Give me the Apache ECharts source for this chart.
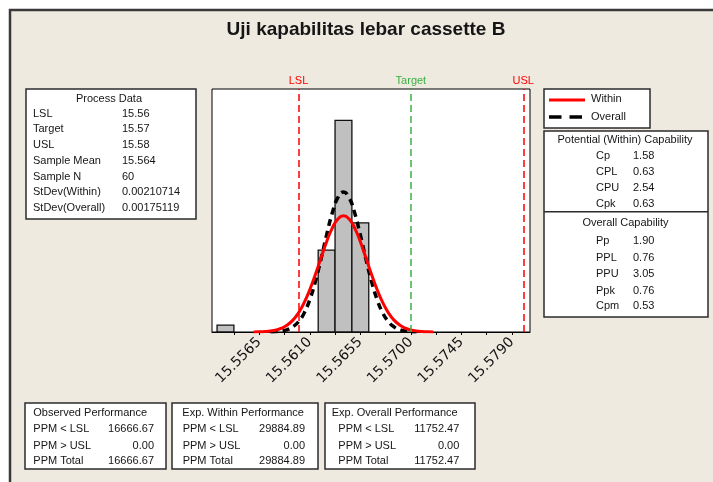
<!DOCTYPE html>
<html>
<head>
<meta charset="utf-8">
<script src="https://cdn.jsdelivr.net/npm/echarts@6/dist/echarts.min.js"></script>
<style>html,body{margin:0;padding:0;background:#fff}#c{width:713px;height:482px}</style>
</head>
<body>
<div id="c"></div>
<script>
// ---- data ----
const titleText = 'Uji kapabilitas lebar cassette B';
// histogram bins: [left edge, right edge, count]
const binLeft  = [15.55275, 15.56175, 15.56325, 15.56475];
const binRight = [15.55425, 15.56325, 15.56475, 15.56625];
const binCount = [1, 12, 31, 16];
// fitted curves (counts scale)
const withinX = [15.5560,15.5565,15.5570,15.5575,15.5580,15.5585,15.5590,15.5595,15.5600,15.5605,15.5610,15.5615,15.5620,15.5625,15.5630,15.5635,15.5640,15.5645,15.5650,15.5655,15.5660,15.5665,15.5670,15.5675,15.5680,15.5685,15.5690,15.5695,15.5700,15.5705,15.5710,15.5715,15.5720];
const withinY = [0.013,0.030,0.068,0.146,0.296,0.565,1.02,1.74,2.81,4.29,6.19,8.43,10.86,13.23,15.23,16.57,17.04,16.57,15.23,13.23,10.86,8.43,6.19,4.29,2.81,1.74,1.02,0.565,0.296,0.146,0.068,0.030,0.013];
const overallX = [15.5575,15.5580,15.5585,15.5590,15.5595,15.5600,15.5605,15.5610,15.5615,15.5620,15.5625,15.5630,15.5635,15.5640,15.5645,15.5650,15.5655,15.5660,15.5665,15.5670,15.5675,15.5680,15.5685,15.5690,15.5695,15.5700,15.5705];
const overallY = [0.021,0.058,0.148,0.348,0.755,1.51,2.78,4.73,7.40,10.68,14.21,17.42,19.68,20.50,19.68,17.42,14.21,10.68,7.40,4.73,2.78,1.51,0.755,0.348,0.148,0.058,0.021];
// spec limits
const specNames  = ['LSL', 'Target', 'USL'];
const specValues = [15.56, 15.57, 15.58];
// axis ticks
const tickValues  = [15.55425,15.5565,15.55875,15.5610,15.56325,15.5655,15.56775,15.5700,15.57225,15.5745,15.57675,15.5790];
const labelValues = [15.5565,15.5610,15.5655,15.5700,15.5745,15.5790];
// tables
const procLabels = ['LSL','Target','USL','Sample Mean','Sample N','StDev(Within)','StDev(Overall)'];
const procValues = ['15.56','15.57','15.58','15.564','60','0.00210714','0.00175119'];
const potLabels = ['Cp','CPL','CPU','Cpk'];
const potValues = ['1.58','0.63','2.54','0.63'];
const ovLabels = ['Pp','PPL','PPU','Ppk','Cpm'];
const ovValues = ['1.90','0.76','3.05','0.76','0.53'];
const perfTitles = ['Observed Performance','Exp. Within Performance','Exp. Overall Performance'];
const perfLabels = ['PPM < LSL','PPM > USL','PPM Total'];
const perfObserved = ['16666.67','0.00','16666.67'];
const perfWithin   = ['29884.89','0.00','29884.89'];
const perfOverall  = ['11752.47','0.00','11752.47'];

// ---- build ----
const FONT = '11px "Liberation Sans", Arial, sans-serif';
const TXT = '#151515';
function txt(x, y, s, align, font) {
  return {type:'text', x:x, y:y, z:10, style:{text:s, font:font||FONT, fill:TXT, textAlign:align||'left', textVerticalAlign:'middle', verticalAlign:'middle'}};
}
function box(x, y, w, h) {
  return {type:'rect', z:5, shape:{x:x, y:y, width:w, height:h}, style:{fill:'#fff', stroke:'#2b2b2b', lineWidth:1.5}};
}
const g = [];
// outer frame
g.push({type:'rect', z:1, shape:{x:0,y:0,width:713,height:9}, style:{fill:'#fff'}});
g.push({type:'rect', z:1, shape:{x:0,y:0,width:9,height:482}, style:{fill:'#fff'}});
g.push({type:'polyline', z:2, shape:{points:[[10,482],[10,10],[713,10]]}, style:{stroke:'#3a3a3a', lineWidth:2.5, fill:null}});
// title
g.push(txt(366, 30, titleText, 'center', 'bold 19px "Liberation Sans", Arial, sans-serif'));
// process data
g.push(box(26, 89, 170, 130));
g.push(txt(109, 99, 'Process Data', 'center'));
const procY = [113.5,129.3,145,160.8,176.6,192.4,208.2];
procLabels.forEach((l,i)=>{ g.push(txt(33, procY[i], l)); g.push(txt(122, procY[i], procValues[i])); });
// legend
g.push(box(544, 89, 106, 39));
g.push({type:'line', z:10, shape:{x1:549,y1:100,x2:585,y2:100}, style:{stroke:'#ff0000', lineWidth:3}});
g.push({type:'line', z:10, shape:{x1:549,y1:117,x2:582,y2:117}, style:{stroke:'#000', lineWidth:3.5, lineDash:[12.5,8]}});
g.push(txt(591, 98.5, 'Within'));
g.push(txt(591, 117, 'Overall'));
// capability box
g.push(box(544, 131, 164, 186));
g.push({type:'line', z:10, shape:{x1:544,y1:211.7,x2:708,y2:211.7}, style:{stroke:'#2b2b2b', lineWidth:1.5}});
g.push(txt(625, 140, 'Potential (Within) Capability', 'center'));
const potY = [156,172,188,203.5];
potLabels.forEach((l,i)=>{ g.push(txt(596, potY[i], l)); g.push(txt(633, potY[i], potValues[i])); });
g.push(txt(625.5, 223, 'Overall Capability', 'center'));
const ovY = [241,257.7,274.3,291,306];
ovLabels.forEach((l,i)=>{ g.push(txt(596, ovY[i], l)); g.push(txt(633, ovY[i], ovValues[i])); });
// performance boxes
const perfBoxX = [25, 172, 325], perfBoxW = [141, 146, 150];
const perfHeadX = [33.3, 182.3, 331.7], perfLabX = [33.3, 182.7, 338.3], perfValX = [154, 305, 459.3];
const perfVals = [perfObserved, perfWithin, perfOverall];
const perfY = [429, 445.7, 461];
for (let b=0;b<3;b++){
  g.push(box(perfBoxX[b], 403, perfBoxW[b], 66));
  g.push(txt(perfHeadX[b], 413.3, perfTitles[b]));
  perfLabels.forEach((l,i)=>{ g.push(txt(perfLabX[b], perfY[i], l)); g.push(txt(perfValX[b], perfY[i], perfVals[b][i], 'right')); });
}

const specColors = ['#ff0000', '#3cb043', '#ff0000'];
const histData = binCount.map((c,i)=>[binLeft[i], binRight[i], c]);

const option = {
  animation: false,
  backgroundColor: '#eeeae0',
  grid: {left:212, right:183, top:89, bottom:150, show:true, backgroundColor:'#fff', borderColor:'#000', borderWidth:1},
  xAxis: {
    type:'value', min:15.5523, max:15.5806, splitLine:{show:false},
    axisLine:{show:true, onZero:false, lineStyle:{color:'#000', width:1}},
    axisTick:{show:true, length:3, lineStyle:{color:'#000'}, customValues: tickValues},
    axisLabel:{rotate:45, margin:8, color:'#111', fontSize:14, fontFamily:'"DejaVu Sans", sans-serif', customValues: labelValues, formatter: v => Number(v).toFixed(4)}
  },
  yAxis: {type:'value', min:0, max:35.6, show:false, splitLine:{show:false}},
  graphic: g,
  series: [
    {
      type:'custom', z:2,
      data: histData,
      encode:{x:[0,1], y:2},
      renderItem: function(params, api){
        const p0 = api.coord([api.value(0), api.value(2)]);
        const p1 = api.coord([api.value(1), 0]);
        return {type:'rect', shape:{x:p0[0], y:p0[1], width:p1[0]-p0[0], height:p1[1]-p0[1]}, style:{fill:'#c0c0c0', stroke:'#111', lineWidth:1.3}};
      },
      markLine: {
        silent:true, symbol:'none',
        data: specValues.map((v,i)=>({
          xAxis: v,
          lineStyle:{color:specColors[i], type:[7,4], width:1.5},
          label:{show:true, position:'end', formatter: specNames[i], color:specColors[i], fontSize:11, fontFamily:'"Liberation Sans", Arial, sans-serif', distance:3}
        }))
      }
    },
    {
      type:'line', z:3, symbol:'none', smooth:true,
      data: overallX.map((x,i)=>[x, overallY[i]]),
      lineStyle:{color:'#000', width:3.5, type:[7,5]}
    },
    {
      type:'line', z:4, symbol:'none', smooth:true,
      data: withinX.map((x,i)=>[x, withinY[i]]),
      lineStyle:{color:'#ff0000', width:3}
    }
  ]
};
echarts.init(document.getElementById('c'), null, {renderer:'canvas'}).setOption(option);
</script>
</body>
</html>
